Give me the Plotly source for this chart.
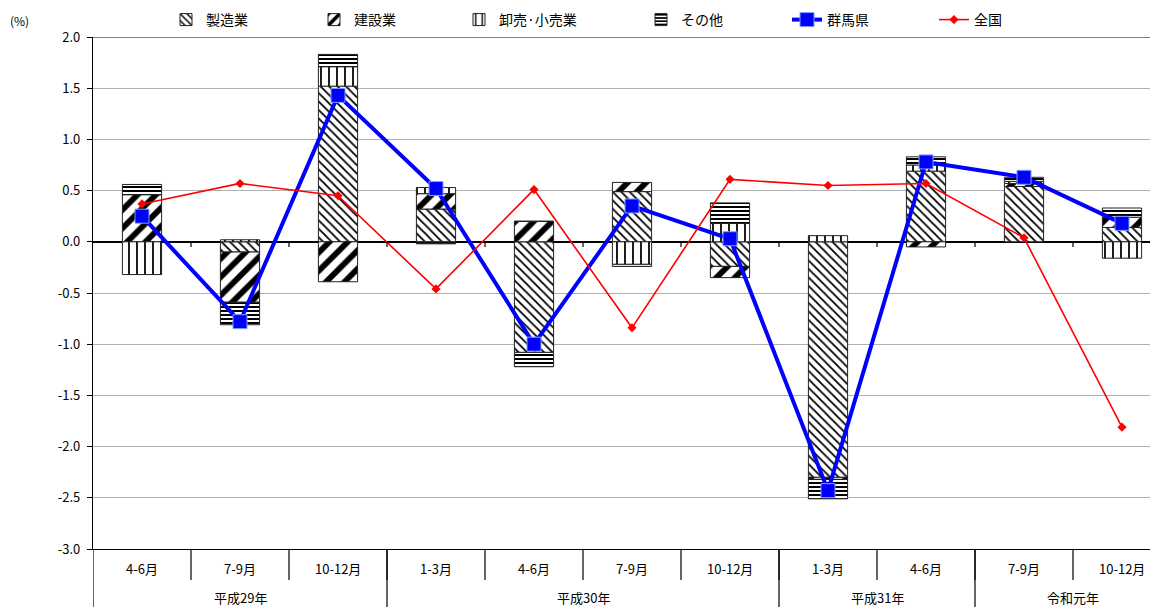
import plotly.graph_objects as go

# ---- data ----
quarters = ["4-6月", "7-9月", "10-12月", "1-3月", "4-6月", "7-9月", "10-12月",
            "1-3月", "4-6月", "7-9月", "10-12月"]
years = ["平成29年", "平成30年", "平成31年", "令和元年"]
year_spans = [3, 4, 2, 2]

seizo = [0.00, -0.10, 1.52, 0.32, -1.08, 0.49, -0.24, -2.30, 0.69, 0.54, 0.14]
kensetsu = [0.46, -0.49, -0.39, 0.15, 0.20, 0.09, -0.11, -0.02, -0.05, 0.03, 0.10]
oroshi = [-0.32, 0.02, 0.19, 0.06, 0.00, -0.22, 0.18, 0.06, 0.06, 0.02, -0.16]
sonota = [0.10, -0.22, 0.12, -0.02, -0.14, -0.02, 0.20, -0.19, 0.08, 0.04, 0.09]
gunma = [0.25, -0.78, 1.43, 0.52, -1.00, 0.35, 0.03, -2.43, 0.78, 0.63, 0.18]
zenkoku = [0.37, 0.57, 0.45, -0.46, 0.51, -0.84, 0.61, 0.55, 0.57, 0.04, -1.81]

y_ticks = [2.0, 1.5, 1.0, 0.5, 0.0, -0.5, -1.0, -1.5, -2.0, -2.5, -3.0]

x = list(range(len(quarters)))
FONT = "Noto Sans CJK JP"

OFF = 8                      # page body margin
W, H = 1158 - OFF, 607 - OFF
L_PAGE, T_PAGE, BOT_PAGE = 93, 37, 549
L = L_PAGE - OFF
T = T_PAGE - OFF
B = (H + OFF) - BOT_PAGE
PW = W - L
PH = H - T - B

fig = go.Figure()

def bar(name, vals, shape, size, solidity, legend):
    fig.add_trace(go.Bar(
        x=x, y=vals, name=name, width=0.4, legend=legend,
        marker=dict(color="white",
                    line=dict(color="#222222", width=1),
                    pattern=dict(shape=shape, size=size, solidity=solidity,
                                 fgcolor="black", bgcolor="white",
                                 fillmode="replace")),
    ))

bar("製造業", seizo, "\\", 6, 0.3, "legend")
bar("建設業", kensetsu, "/", 13, 0.45, "legend2")
bar("卸売·小売業", oroshi, "|", 8, 0.22, "legend3")
bar("その他", sonota, "-", 4, 0.5, "legend4")

fig.add_trace(go.Scatter(
    x=x, y=gunma, name="群馬県", mode="lines+markers", legend="legend5",
    line=dict(color="#0000FF", width=4),
    marker=dict(symbol="square", size=14, color="#0000FF",
                line=dict(color="#7f9fff", width=1)),
))
fig.add_trace(go.Scatter(
    x=x, y=zenkoku, name="全国", mode="lines+markers", legend="legend6",
    line=dict(color="#FF0000", width=1.6),
    marker=dict(symbol="diamond", size=7, color="#FF0000"),
))

n = len(quarters)
shapes = []
for i in range(1, n + 1):
    shapes.append(dict(type="line", xref="x", yref="paper", x0=i - 0.5, x1=i - 0.5,
                       y0=0, y1=-31 / PH, line=dict(color="black", width=1.2)))
    shapes.append(dict(type="line", xref="x", yref="y", x0=i - 0.5, x1=i - 0.5,
                       y0=0, y1=-0.05, line=dict(color="black", width=1.2)))
pos = -0.5
bounds = [pos]
for s in year_spans:
    pos += s
    bounds.append(pos)
for b in bounds:
    shapes.append(dict(type="line", xref="x", yref="paper", x0=b, x1=b,
                       y0=0, y1=-0.14, line=dict(color="black", width=1.2)))
shapes.append(dict(type="line", xref="paper", yref="y", x0=0, x1=1, y0=2.0, y1=2.0,
                   line=dict(color="black", width=1.2)))

annotations = []
for i, q in enumerate(quarters):
    annotations.append(dict(x=i, y=-19 / PH, xref="x", yref="paper", text=q,
                            showarrow=False, font=dict(size=13, color="black", family=FONT),
                            xanchor="center", yanchor="middle"))
start = -0.5
for yname, s in zip(years, year_spans):
    annotations.append(dict(x=start + s / 2, y=-48 / PH, xref="x", yref="paper", text=yname,
                            showarrow=False, font=dict(size=13, color="black", family=FONT),
                            xanchor="center", yanchor="middle"))
    start += s
annotations.append(dict(x=(19 - L_PAGE) / PW, y=1 + 17 / PH, xref="paper", yref="paper",
                        text="(%)", showarrow=False,
                        font=dict(size=12, color="black", family=FONT),
                        xanchor="center", yanchor="middle"))

# legend icon centres (page pixels)
icon_centres = [185, 333, 478, 660, 806, 953]
legends = {}
for k, c in enumerate(icon_centres):
    key = "legend" if k == 0 else f"legend{k + 1}"
    legends[key] = dict(orientation="h", x=(c - 19 - L_PAGE) / PW, xanchor="left",
                        y=1 + 17 / PH, yanchor="middle",
                        font=dict(size=14, family=FONT, color="black"),
                        bgcolor="rgba(0,0,0,0)")

fig.update_layout(
    width=W, height=H,
    margin=dict(l=L, r=0, t=T, b=B, autoexpand=False),
    paper_bgcolor="white", plot_bgcolor="white",
    barmode="relative",
    font=dict(family=FONT, size=13, color="black"),
    xaxis=dict(range=[-0.5, -0.5 + PW / 98], showticklabels=False, ticks="",
               showgrid=False, zeroline=False, showline=True, linecolor="black",
               linewidth=1.2, fixedrange=True, automargin=False),
    yaxis=dict(range=[-3.0, 2.0], tickvals=y_ticks,
               ticktext=[f"{v:.1f}" for v in y_ticks],
               ticks="outside", ticklen=5, tickcolor="black", tickwidth=1,
               showgrid=True, gridcolor="#b0b0b0", gridwidth=1,
               zeroline=True, zerolinecolor="black", zerolinewidth=1.5,
               showline=True, linecolor="black", linewidth=1.2,
               tickfont=dict(size=13, family=FONT, color="black"),
               ticklabelstandoff=4, automargin=False),
    shapes=shapes, annotations=annotations,
    showlegend=True,
    **legends,
)

fig.write_html("out.html")
